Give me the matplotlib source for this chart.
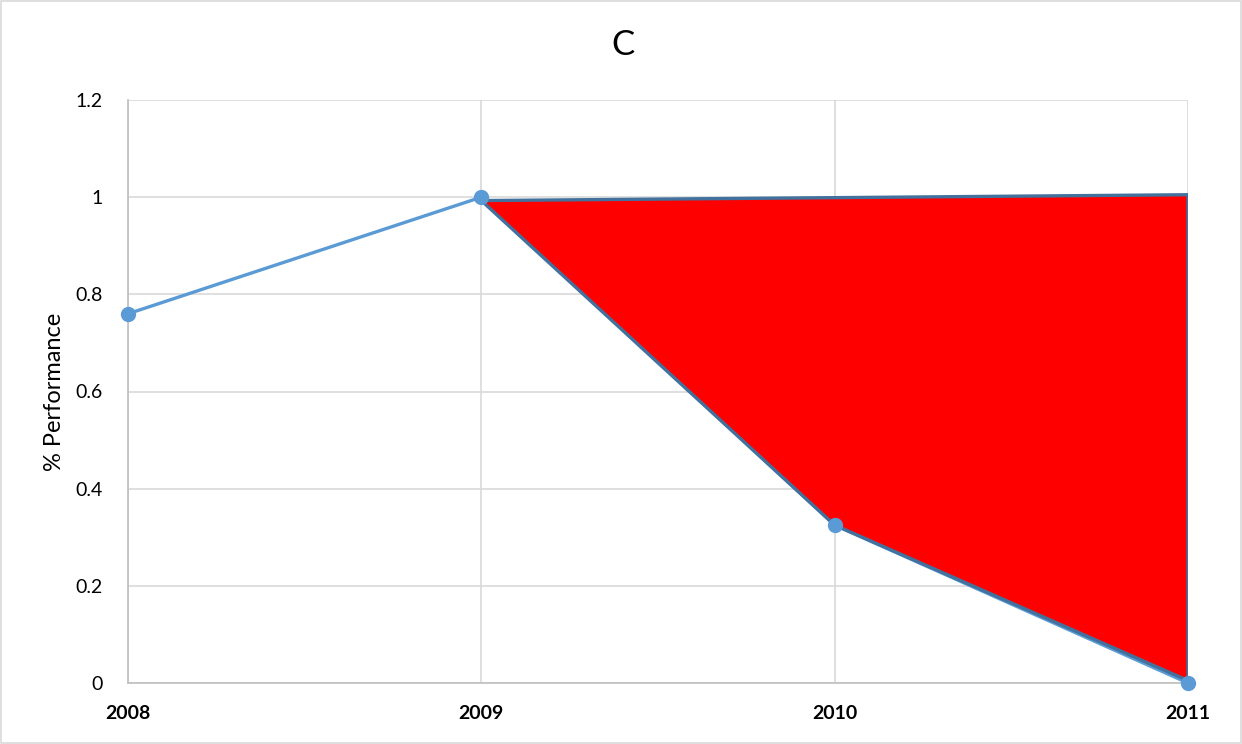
import matplotlib.pyplot as plt
from matplotlib.patches import Polygon

plt.rcParams['font.family'] = ['Lato', 'DejaVu Sans']

years = [2008, 2009, 2010, 2011]
performance = [0.76, 1.0, 0.325, 0.0]

# shaded drop region: across the top from 2009 to 2011, back down along the series
shade_x = [2009, 2011, 2011, 2010]
shade_y = [0.993, 1.005, 0.005, 0.325]

fig = plt.figure(figsize=(12.42, 7.44), dpi=100)
ax = fig.add_axes([128 / 1242, 1 - 683 / 744, 1060 / 1242, 583 / 744])

ax.plot(years, performance, color='#5b9bd5', linewidth=2.4, zorder=3, clip_on=False)

poly = Polygon(list(zip(shade_x, shade_y)), closed=True, facecolor='#ff0000',
               edgecolor='#41719c', linewidth=2.4, zorder=4)
ax.add_patch(poly)

ax.plot(years, performance, linestyle='none', marker='o', markersize=10,
        color='#5b9bd5', zorder=5, clip_on=False)

ax.set_xlim(2008, 2011)
ax.set_ylim(0, 1.2)
ax.set_xticks(years)
ax.set_xticklabels([str(y) for y in years], fontweight='bold', fontsize=14)
ax.set_yticks([0, 0.2, 0.4, 0.6, 0.8, 1.0, 1.2])
ax.set_yticklabels(['0', '0.2', '0.4', '0.6', '0.8', '1', '1.2'], fontsize=14)
ax.tick_params(axis='x', length=0, pad=16)
ax.tick_params(axis='y', length=0, pad=18)

ax.grid(True, color='#d9d9d9', linewidth=1.2, zorder=0)
ax.set_axisbelow(True)
for side in ['top', 'right']:
    ax.spines[side].set_visible(False)
for side in ['left', 'bottom']:
    ax.spines[side].set_color('#bfbfbf')
    ax.spines[side].set_linewidth(1.2)

ax.set_ylabel('% Performance', fontsize=17, labelpad=8)
fig.text(623 / 1242, 1 - 45 / 744, 'C', fontsize=25, ha='center', va='center')

# chart area border
fig.patches.append(plt.Rectangle((0.001, 0.001), 0.998, 0.998, transform=fig.transFigure,
                                 fill=False, edgecolor='#d9d9d9', linewidth=1.2))

fig.savefig('out.png', dpi=100)
